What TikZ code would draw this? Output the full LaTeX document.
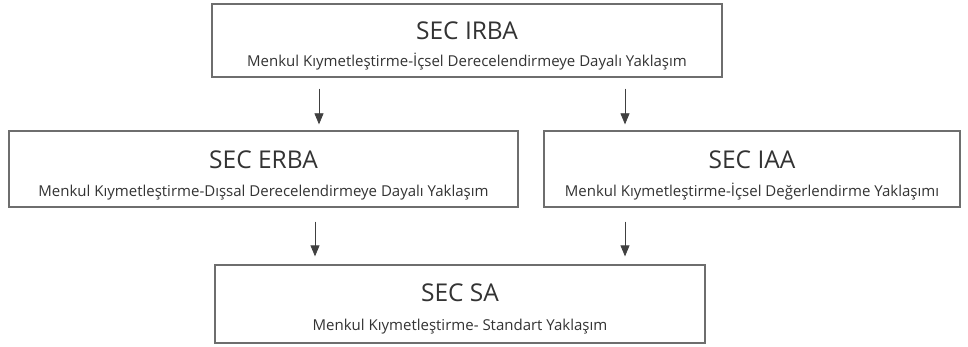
\documentclass[tikz,border=0pt]{standalone}
\usepackage{fontspec}
\setmainfont{Open Sans}
\usetikzlibrary{arrows.meta}
\definecolor{boxline}{HTML}{6E6E6E}
\definecolor{txt}{HTML}{333333}
\tikzset{
  box/.style={draw=boxline, line width=1.3pt, minimum width=#1, inner sep=0pt, fill=white},
  ttl/.style={text=txt, font=\fontsize{24.5}{26}\selectfont, inner sep=0pt, anchor=base},
  sub/.style={text=txt, font=\fontsize{15}{17}\selectfont, inner sep=0pt, anchor=base},
  arr/.style={draw=black!75, line width=0.8pt, -{Triangle[length=11pt,width=9pt]}}
}
\begin{document}
\begin{tikzpicture}[x=1pt,y=-1pt]
\useasboundingbox (0,0) rectangle (968,347);
\fill[white] (0,0) rectangle (968,347);
% boxes
\node[box=510pt, minimum height=73pt] (irba) at (467,40.5) {};
\node[box=509pt, minimum height=76pt] (erba) at (263.5,169) {};
\node[box=416pt, minimum height=76pt] (iaa) at (752,169) {};
\node[box=490pt, minimum height=78pt] (sa) at (460,304) {};
% texts
\node[ttl] (t1) at (467,39.5) {SEC IRBA};
\node[sub] (s1) at (467,66.5) {Menkul Kıymetleştirme-İçsel Derecelendirmeye Dayalı Yaklaşım};
\node[ttl] (t2) at (263.5,169) {SEC ERBA};
\node[sub] (s2) at (263.5,197) {Menkul Kıymetleştirme-Dışsal Derecelendirmeye Dayalı Yaklaşım};
\node[ttl] (t3) at (752,169) {SEC IAA};
\node[sub] (s3) at (752,197) {Menkul Kıymetleştirme-İçsel Değerlendirme Yaklaşımı};
\node[ttl] (t4) at (460,301) {SEC SA};
\node[sub] (s4) at (460,330) {Menkul Kıymetleştirme- Standart Yaklaşım};
% arrow columns
\coordinate (c1) at (319,0);
\coordinate (c2) at (625,0);
\coordinate (c3) at (315,0);
\coordinate (c4) at (625,0);
\draw[arr, shorten <=11pt, shorten >=6pt] (irba.south -| c1) -- (erba.north -| c1);
\draw[arr, shorten <=11pt, shorten >=6pt] (irba.south -| c2) -- (iaa.north -| c2);
\draw[arr, shorten <=14pt, shorten >=8pt] (erba.south -| c3) -- (sa.north -| c3);
\draw[arr, shorten <=14pt, shorten >=8pt] (iaa.south -| c4) -- (sa.north -| c4);
\end{tikzpicture}
\end{document}
